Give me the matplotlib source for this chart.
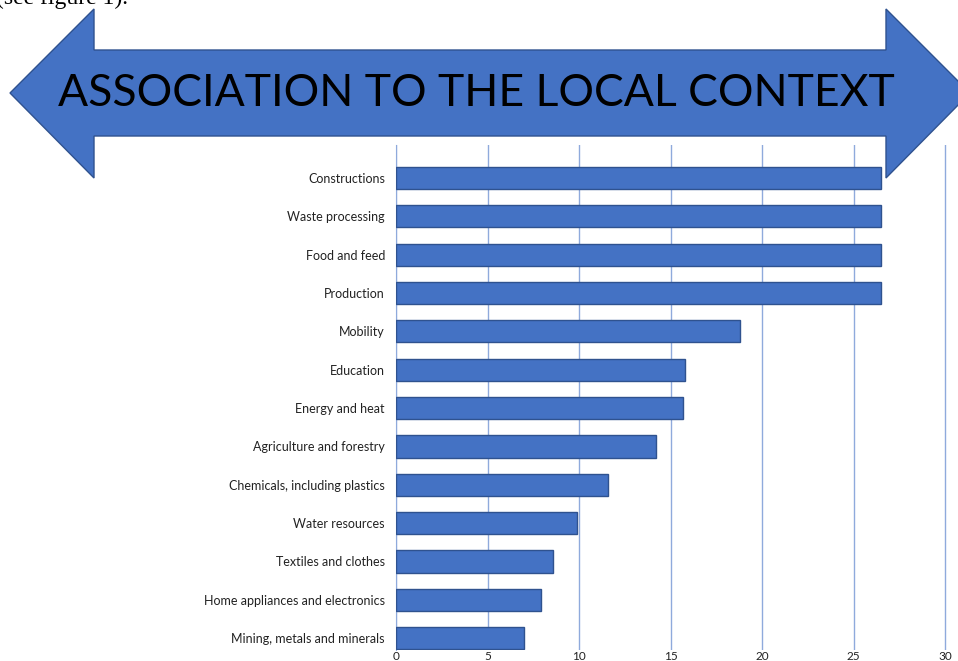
import matplotlib.pyplot as plt
from matplotlib.patches import Polygon

# sectors and their scores
sectors = ["Constructions", "Waste processing", "Food and feed", "Production",
           "Mobility", "Education", "Energy and heat", "Agriculture and forestry",
           "Chemicals, including plastics", "Water resources", "Textiles and clothes",
           "Home appliances and electronics", "Mining, metals and minerals"]
scores = [26.5, 26.5, 26.5, 26.5, 18.8, 15.8, 15.7, 14.2, 11.6, 9.9, 8.6, 7.9, 7.0]
ticks = [0, 5, 10, 15, 20, 25, 30]

blue = "#4472C4"
edge = "#2F528F"
grid = "#8FAADC"


def main():
    fig = plt.figure(figsize=(9.58, 6.61), dpi=100)

    # bar chart
    ax = fig.add_axes([396 / 958, 11 / 661, 553 / 958, 505 / 661])
    pos = range(len(sectors))
    ax.barh(pos, scores, height=0.58, color=blue, edgecolor=edge, linewidth=1, zorder=3)
    ax.set_xlim(0, 30.2)
    ax.set_ylim(12.31, -0.86)
    ax.set_xticks(ticks)
    ax.set_xticklabels([str(t) for t in ticks], fontsize=8.5, family="Lato")
    ax.set_yticks(list(pos))
    ax.set_yticklabels(sectors, fontsize=9, family="Lato")
    ax.tick_params(length=0, pad=8, colors="#222222")
    ax.tick_params(axis="x", pad=1)
    ax.grid(axis="x", color=grid, linewidth=1, zorder=0)
    for s in ["top", "right", "bottom"]:
        ax.spines[s].set_visible(False)
    ax.spines["left"].set_color(grid)

    # big double arrow on top
    over = fig.add_axes([0, 0, 1, 1], zorder=5)
    over.set_xlim(0, 958)
    over.set_ylim(661, 0)
    over.axis("off")
    pts = [(10, 93), (94, 9), (94, 50), (886, 50), (886, 9), (970, 93),
           (886, 178), (886, 136), (94, 136), (94, 178)]
    over.add_patch(Polygon(pts, closed=True, facecolor=blue, edgecolor=edge, linewidth=1))
    over.text(476, 93, "ASSOCIATION TO THE LOCAL CONTEXT", fontsize=32, family="Lato",
              ha="center", va="center", color="black")
    over.text(-4, 4, "(see figure 1).", fontsize=17, family="Liberation Serif",
              ha="left", va="baseline", color="black")

    fig.savefig("out.png", dpi=100)


if __name__ == "__main__":
    main()
